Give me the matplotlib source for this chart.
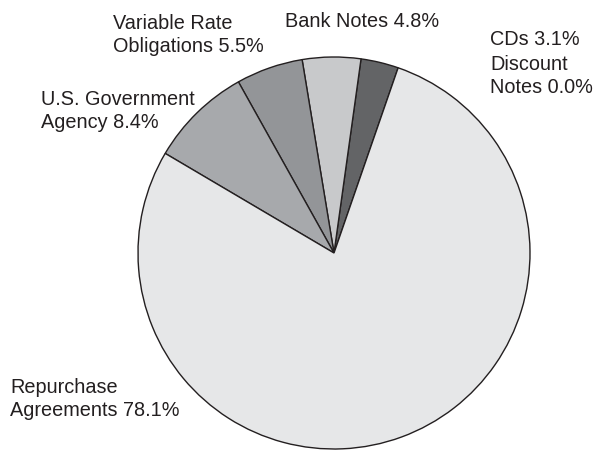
import matplotlib.pyplot as plt

plt.rcParams['font.family'] = ['Liberation Sans', 'DejaVu Sans']

# slices, counter-clockwise from the CDs edge
categories = ["Discount Notes", "CDs", "Bank Notes", "Variable Rate Obligations",
              "U.S. Government Agency", "Repurchase Agreements"]
shares = [0.0, 3.1, 4.8, 5.5, 8.4, 78.1]
colors = ["#e6e7e8", "#636466", "#c8c9cb", "#939598", "#a7a9ac", "#e6e7e8"]

# label lines and where they sit (left x, baseline y of first line, in pixels)
label_lines = [
    ["Discount", "Notes 0.0%"],
    ["CDs 3.1%"],
    ["Bank Notes 4.8%"],
    ["Variable Rate", "Obligations 5.5%"],
    ["U.S. Government", "Agency 8.4%"],
    ["Repurchase", "Agreements 78.1%"],
]
label_pos = [(490, 70), (490, 45), (285, 27), (113, 29), (41, 105), (10, 393)]

W, H = 598, 451
fig = plt.figure(figsize=(W / 100, H / 100), dpi=100)

# pie centre (334, 253) px, radius 196 px
cx, cy, r = 334, 253, 196
ax = fig.add_axes([(cx - r) / W, (H - cy - r) / H, 2 * r / W, 2 * r / H])
ax.pie(shares, colors=colors, startangle=70.9, counterclock=True,
       wedgeprops=dict(edgecolor="#231f20", linewidth=1.0, clip_on=False))
ax.set_xlim(-1, 1)
ax.set_ylim(-1, 1)
ax.axis('off')

for lines, (x, y) in zip(label_lines, label_pos):
    for i, line in enumerate(lines):
        fig.text(x / W, 1 - (y + i * 23) / H, line, fontsize=14.3,
                 color="#231f20", ha='left', va='baseline')

fig.savefig("out.png", dpi=100)
